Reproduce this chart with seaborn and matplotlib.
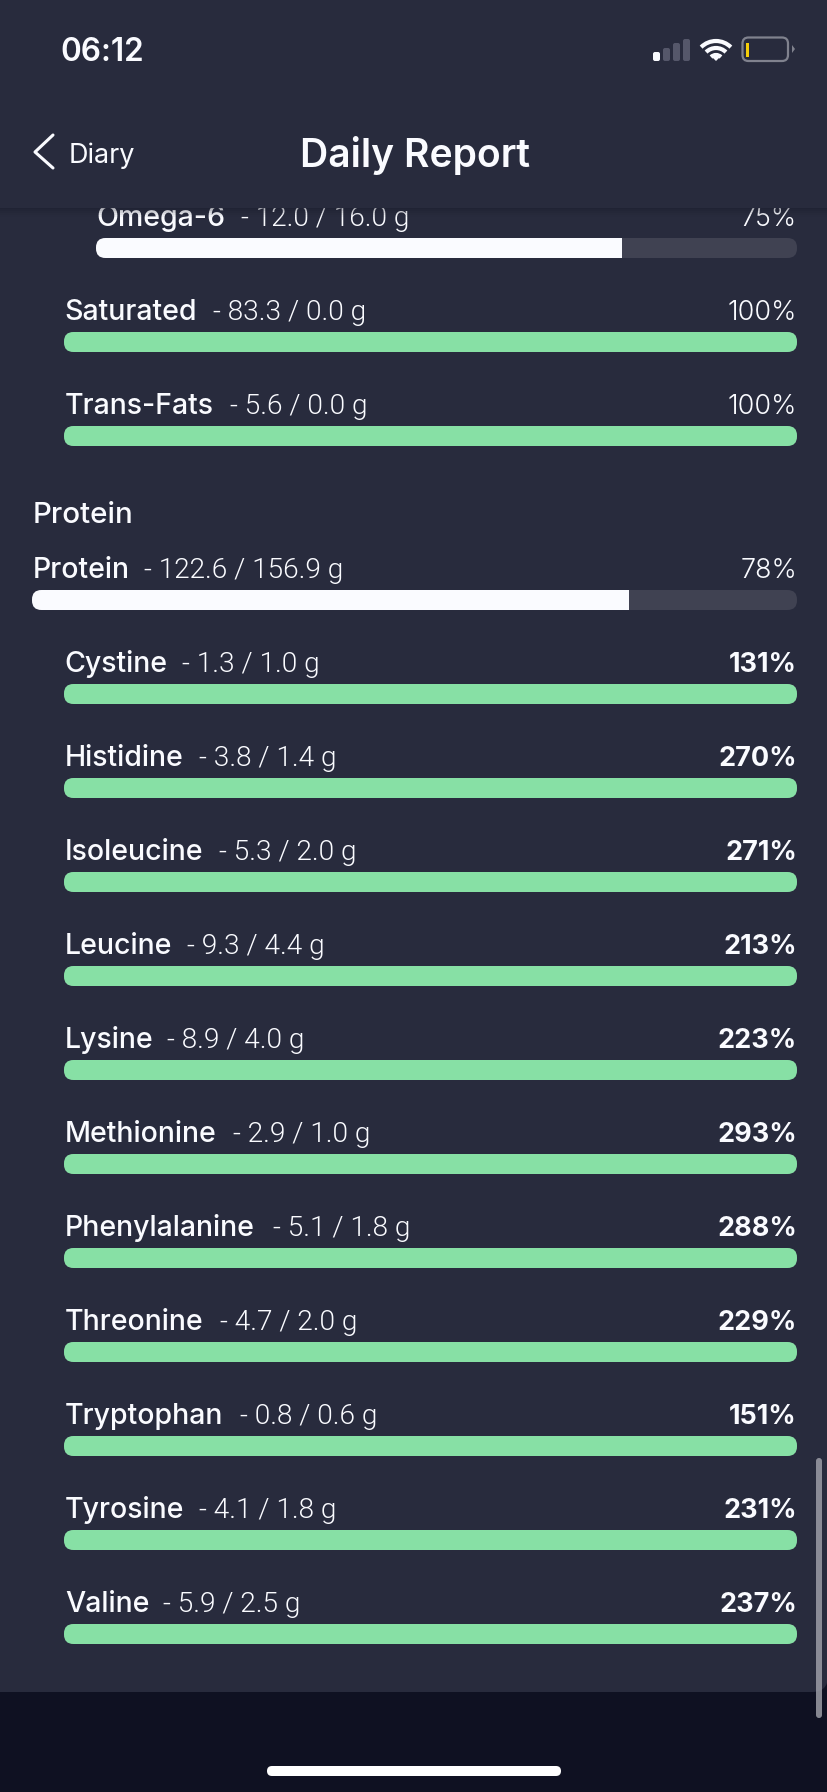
import numpy as np
import matplotlib
matplotlib.use("Agg")
import matplotlib.pyplot as plt
from matplotlib.patches import FancyBboxPatch, Rectangle, Arc, Polygon
from matplotlib.lines import Line2D
from matplotlib.transforms import Affine2D
import seaborn as sns

# ---------- data ----------
nutrients = ["Omega-6", "Saturated", "Trans-Fats", "Protein", "Cystine", "Histidine", "Isoleucine",
             "Leucine", "Lysine", "Methionine", "Phenylalanine", "Threonine", "Tryptophan",
             "Tyrosine", "Valine"]
consumed = ["12.0", "83.3", "5.6", "122.6", "1.3", "3.8", "5.3", "9.3", "8.9", "2.9", "5.1", "4.7", "0.8", "4.1", "5.9"]
targets = ["16.0", "0.0", "0.0", "156.9", "1.0", "1.4", "2.0", "4.4", "4.0", "1.0", "1.8", "2.0", "0.6", "1.8", "2.5"]
percents = [75, 100, 100, 78, 131, 270, 271, 213, 223, 293, 288, 229, 151, 231, 237]
indent_level = [2, 1, 1, 0, 1, 1, 1, 1, 1, 1, 1, 1, 1, 1, 1]
section_title = "Protein"
page_title = "Daily Report"
back_label = "Diary"
clock = "06:12"

# ---------- layout / style ----------
W, H = 828, 1792
CARD = "#282B3D"; DARK = "#0F1122"; GREEN = "#87E0A5"; TRACK = "#404252"; WHITE = "#FAFBFF"
bar_tops = [238, 332, 426, 590] + [684 + 94 * i for i in range(11)]
lefts = {0: 32, 1: 64, 2: 96}
RIGHT = 797
BAR_H = 20
FONT = "Inter"
NAME_PX = 28.5          # reference tracks its letters out; size is a compromise
TRACKING = 1.11 * 27 / NAME_PX  # where the spaced-out name would end

sns.set_theme(style="white")
plt.rcParams["font.family"] = [FONT, "DejaVu Sans"]
fig = plt.figure(figsize=(W / 100, H / 100), dpi=100, facecolor=DARK)
px = Affine2D().scale(1, -1).translate(0, H)


def rbox(x0, y0, x1, y1, r, **kw):
    kw.setdefault("linewidth", 0)
    return FancyBboxPatch((x0 + r, y0 + r), x1 - x0 - 2 * r, y1 - y0 - 2 * r,
                          boxstyle=f"round,pad={r},rounding_size={r}", transform=px, **kw)


def label(x, y, s, size=27, weight="normal", color=WHITE, ha="left", z=3, family=FONT):
    return fig.text(x, y, s, transform=px, fontsize=size * 0.72, fontweight=weight, color=color, ha=ha,
                    va="baseline", zorder=z, family=[family, "DejaVu Sans"])


# card background
fig.add_artist(rbox(-40, -40, W, 1692, 16, facecolor=CARD, zorder=0))

renderer = fig.canvas.get_renderer()
for name, cur, tgt, pct, lvl, top in zip(nutrients, consumed, targets, percents, indent_level, bar_tops):
    left = lefts[lvl]
    ax = fig.add_axes([left / W, 1 - (top + BAR_H) / H, (RIGHT - left) / W, BAR_H / H], zorder=1)
    sns.barplot(x=[min(pct, 100)], y=[name], orient="h", color=GREEN if pct >= 100 else WHITE,
                saturation=1, width=1, linewidth=0, edgecolor="none", ax=ax)
    ax.set_xlim(0, 100)
    ax.set_axis_off()
    bars = list(ax.patches)
    track = rbox(left, top, RIGHT, top + BAR_H, 9.5, facecolor=TRACK, zorder=0)
    ax.add_patch(track)
    track.set_clip_on(False)
    for bar in bars:
        bar.set_clip_path(track)
    base = top - 12
    t = label(left + 0.8, base, name, size=NAME_PX, weight=500)
    ext = t.get_window_extent(renderer)
    label(ext.x0 + ext.width * TRACKING + 9, base, f"- {cur} / {tgt} g", size=28, weight=300, family="Roboto")
    label(797, base, f"{pct}%", weight=700 if pct > 100 else 300, ha="right")

label(33, 523, section_title, size=29.5, weight=500)

# header panel with a soft shadow
for grow, a in zip([9, 7, 5, 3, 1], [0.05, 0.07, 0.09, 0.11, 0.13]):
    fig.add_artist(rbox(-40, -60, W + 40, 208 + grow, 34, facecolor="#1A1C2A", alpha=a, zorder=4))
fig.add_artist(rbox(-40, -60, W + 40, 208, 34, facecolor=CARD, zorder=5))
label(60, 61, clock, size=31.5, weight=600, z=6)
label(69, 163, back_label, size=27, weight=400, z=6)
label(415.5, 167, page_title, size=39, weight=600, ha="center", z=6)
fig.add_artist(Line2D([53, 35, 53], [135, 152, 168], transform=px, color=WHITE, lw=2.2, zorder=6))

# status icons
for i, (x, h) in enumerate(zip([653, 663, 673, 683], [9, 13, 18, 22])):
    fig.add_artist(rbox(x, 61 - h, x + 7, 61, 2, facecolor=WHITE if i == 0 else "#55576A", zorder=6))
for d in [42, 28, 14]:
    fig.add_artist(Arc((716, 62), d, d, theta1=225, theta2=315, transform=px, color=WHITE, lw=3, zorder=6))
fig.add_artist(Polygon([[716, 61], [710, 55], [722, 55]], transform=px, facecolor=WHITE, edgecolor="none", zorder=6))
fig.add_artist(rbox(742.5, 37.5, 788, 61, 6, facecolor="none", edgecolor="#80828E", linewidth=1.6, zorder=6))
fig.add_artist(Rectangle((745.5, 43), 3.5, 14, transform=px, facecolor="#F5CE0A", edgecolor="none", zorder=6))
fig.add_artist(Polygon([[792, 45], [795, 49], [792, 53]], transform=px, facecolor="#80828E", edgecolor="none", zorder=6))

# scrollbar and home indicator
fig.add_artist(rbox(816, 1458, 822, 1718, 3, facecolor="#9C9DA6", alpha=0.85, zorder=6))
fig.add_artist(rbox(267, 1766, 561, 1776, 5, facecolor="white", zorder=6))

fig.savefig("out.png", dpi=100, facecolor=DARK)
